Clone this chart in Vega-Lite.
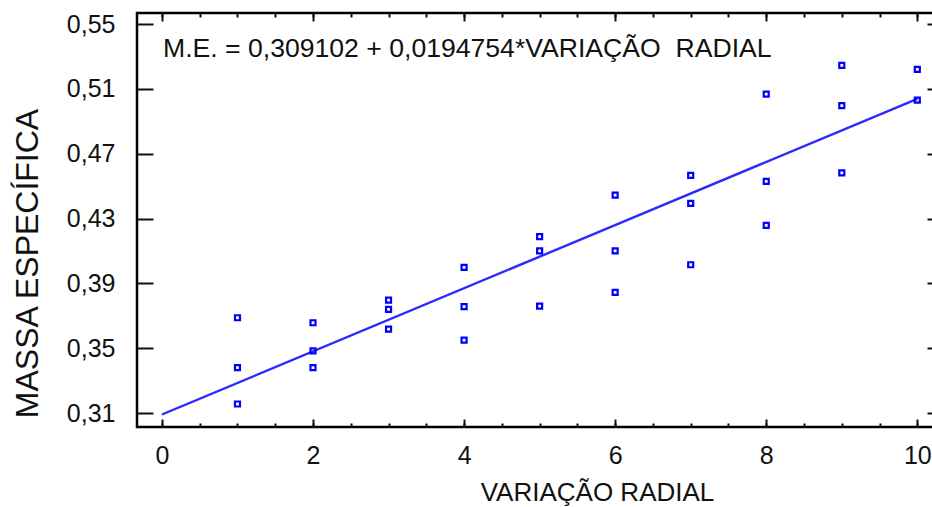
{
  "$schema": "https://vega.github.io/schema/vega-lite/v6.json",
  "width": 806,
  "height": 414,
  "autosize": "none",
  "padding": {"left": 137, "top": 13, "right": 0, "bottom": 80},
  "background": "white",
  "config": {
    "view": {"stroke": "#000", "strokeWidth": 2.5},
    "font": "Liberation Sans",
    "axis": {"domain": false, "grid": false, "labelColor": "#111", "titleColor": "#111", "tickColor": "#111"}
  },
  "title": {
    "text": "M.E. = 0,309102 + 0,0194754*VARIAÇÃO\u00a0 RADIAL",
    "anchor": "start",
    "frame": "group",
    "baseline": "alphabetic",
    "fontSize": 26.6,
    "fontWeight": "normal",
    "color": "#111",
    "dx": 26,
    "offset": -72
  },
  "datasets": {
    "pts": [
      {"v": 1, "m": 0.3688}, {"v": 1, "m": 0.338}, {"v": 1, "m": 0.3156},
      {"v": 2, "m": 0.3657}, {"v": 2, "m": 0.3484}, {"v": 2, "m": 0.338},
      {"v": 3, "m": 0.3797}, {"v": 3, "m": 0.374}, {"v": 3, "m": 0.3618},
      {"v": 4, "m": 0.3999}, {"v": 4, "m": 0.3756}, {"v": 4, "m": 0.355},
      {"v": 5, "m": 0.4188}, {"v": 5, "m": 0.41}, {"v": 5, "m": 0.376},
      {"v": 6, "m": 0.4445}, {"v": 6, "m": 0.41}, {"v": 6, "m": 0.3845},
      {"v": 7, "m": 0.4566}, {"v": 7, "m": 0.4394}, {"v": 7, "m": 0.4015},
      {"v": 8, "m": 0.5068}, {"v": 8, "m": 0.4529}, {"v": 8, "m": 0.4258},
      {"v": 9, "m": 0.5245}, {"v": 9, "m": 0.4996}, {"v": 9, "m": 0.4582},
      {"v": 10, "m": 0.522}, {"v": 10, "m": 0.5031}
    ],
    "fit": [
      {"v": 0, "m": 0.309102},
      {"v": 10, "m": 0.503856}
    ]
  },
  "resolve": {"axis": {"x": "independent", "y": "independent"}},
  "layer": [
    {
      "data": {"name": "fit"},
      "mark": {"type": "line", "color": "#2a2aff", "strokeWidth": 2.4},
      "encoding": {
        "x": {"field": "v", "type": "quantitative",
          "scale": {"domain": [-0.33, 10.34], "nice": false, "zero": false},
          "axis": {"orient": "bottom", "values": [0,0.5,1,1.5,2,2.5,3,3.5,4,4.5,5,5.5,6,6.5,7,7.5,8,8.5,9,9.5,10],
            "labels": false, "title": null, "tickSize": -4, "tickWidth": 2}},
        "y": {"field": "m", "type": "quantitative",
          "scale": {"domain": [0.3014, 0.5568], "nice": false, "zero": false},
          "axis": {"orient": "left", "values": [0.31,0.35,0.39,0.43,0.47,0.51,0.55],
            "labels": false, "title": null, "tickSize": -16, "tickWidth": 2}}
      }
    },
    {
      "data": {"name": "fit"},
      "mark": {"type": "line", "opacity": 0},
      "encoding": {
        "x": {"field": "v", "type": "quantitative",
          "axis": {"orient": "bottom", "values": [0,2,4,6,8,10],
            "labels": false, "title": null, "tickSize": -8, "tickWidth": 2}},
        "y": {"field": "m", "type": "quantitative",
          "axis": {"orient": "right", "values": [0.31,0.35,0.39,0.43,0.47,0.51,0.55],
            "labels": false, "title": null, "tickSize": -16, "tickWidth": 2}}
      }
    },
    {
      "data": {"name": "fit"},
      "mark": {"type": "line", "opacity": 0},
      "encoding": {
        "x": {"field": "v", "type": "quantitative",
          "axis": {"orient": "top", "values": [0,0.5,1,1.5,2,2.5,3,3.5,4,4.5,5,5.5,6,6.5,7,7.5,8,8.5,9,9.5,10],
            "labels": false, "title": null, "tickSize": -4, "tickWidth": 2}},
        "y": {"field": "m", "type": "quantitative", "axis": null}
      }
    },
    {
      "data": {"name": "fit"},
      "mark": {"type": "line", "opacity": 0},
      "encoding": {
        "x": {"field": "v", "type": "quantitative",
          "axis": {"orient": "top", "values": [0,2,4,6,8,10],
            "labels": false, "title": null, "tickSize": -8, "tickWidth": 2}},
        "y": {"field": "m", "type": "quantitative", "axis": null}
      }
    },
    {
      "data": {"name": "pts"},
      "mark": {"type": "point", "shape": "square", "filled": false, "color": "#0000ff", "strokeWidth": 2.2, "size": 25, "opacity": 1},
      "encoding": {
        "x": {"field": "v", "type": "quantitative",
          "axis": {"orient": "bottom", "values": [0,2,4,6,8,10], "ticks": false,
            "labelFontSize": 25, "labelBaseline": "alphabetic", "labelPadding": 36,
            "title": "VARIAÇÃO RADIAL", "titleFontSize": 26, "titleFontWeight": "normal",
            "titleX": 460, "titleY": 73, "titleBaseline": "alphabetic", "titleAlign": "center", "titleAnchor": null}},
        "y": {"field": "m", "type": "quantitative",
          "axis": {"orient": "left", "values": [0.31,0.35,0.39,0.43,0.47,0.51,0.55], "ticks": false,
            "labelFontSize": 25, "labelBaseline": "middle", "labelPadding": 22,
            "labelExpr": "replace(format(datum.value, '.2f'), '.', ',')",
            "title": "MASSA ESPECÍFICA", "titleFontSize": 32, "titleFontWeight": "normal",
            "titleAngle": 270, "titleX": -100, "titleY": 250, "titleBaseline": "alphabetic", "titleAlign": "center"}}
      }
    }
  ]
}
